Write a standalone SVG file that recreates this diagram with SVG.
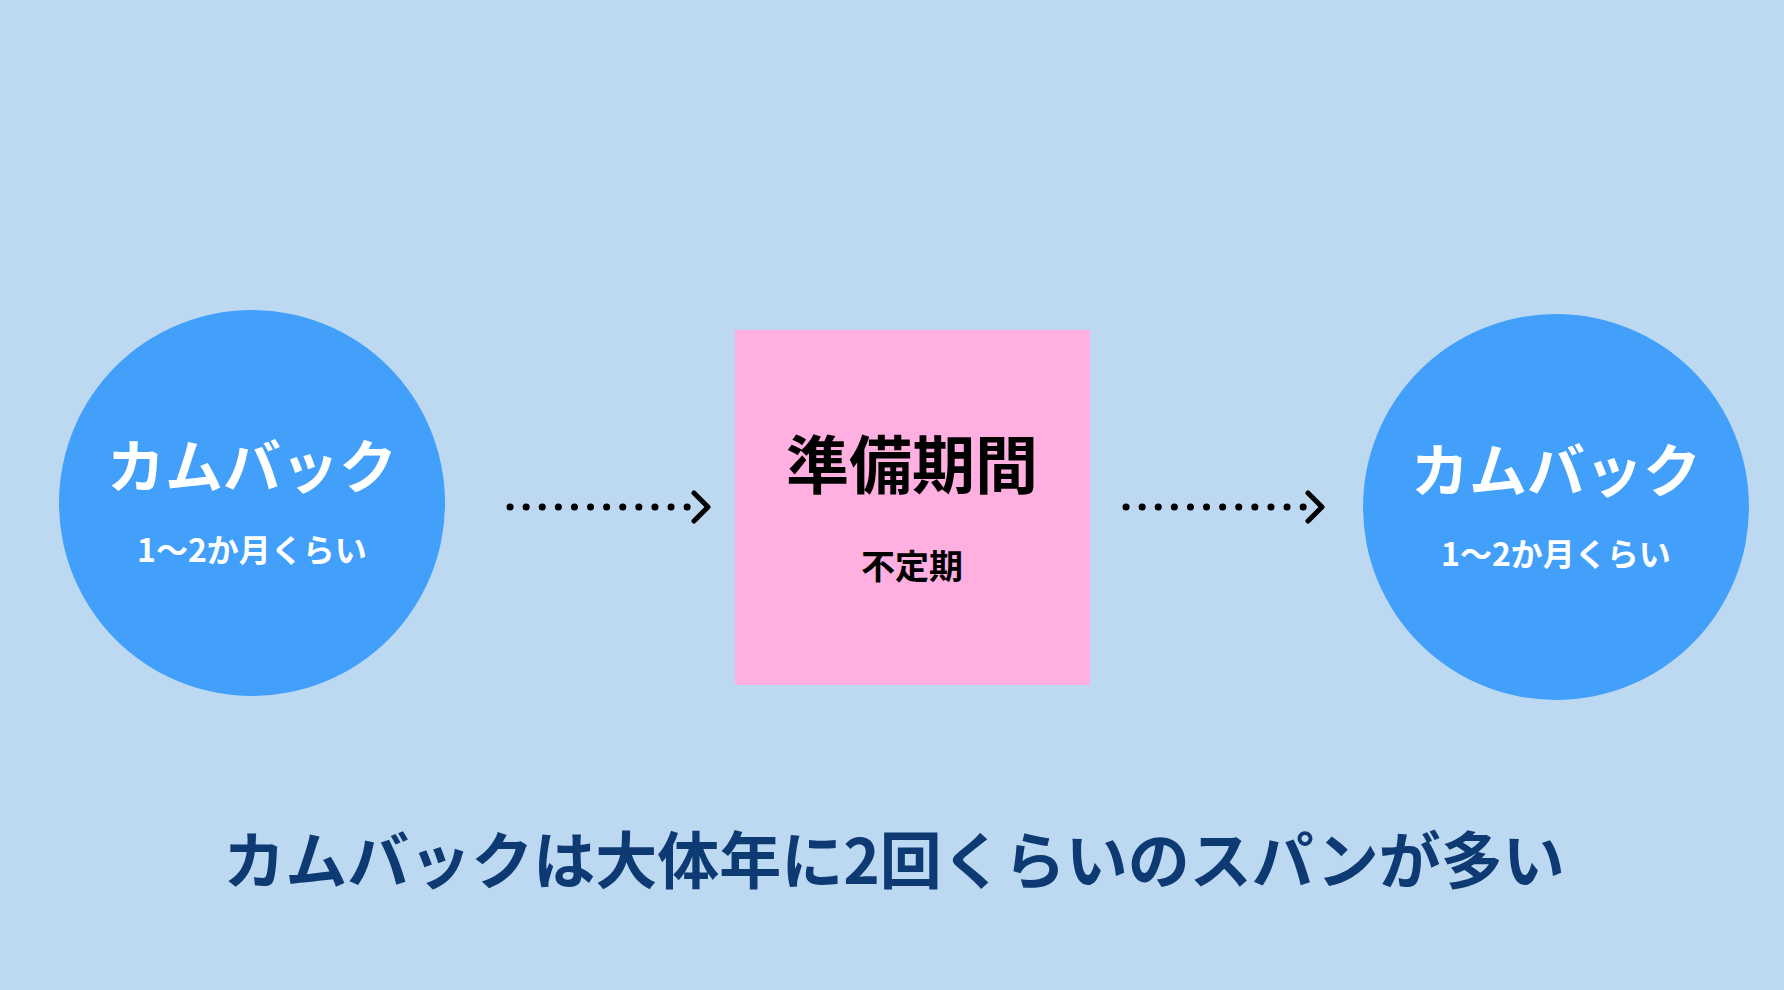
<svg xmlns="http://www.w3.org/2000/svg" width="1784" height="990" viewBox="0 0 1784 990">
<style>
text{font-family:"Noto Sans CJK JP","Noto Sans",sans-serif;font-weight:bold;text-anchor:middle}
.w{fill:#fff}
.k{fill:#000}
.d{stroke:#000;stroke-width:7;stroke-linecap:round;stroke-dasharray:0.1 16;fill:none}
.h{stroke:#000;stroke-width:5;stroke-linecap:round;stroke-linejoin:round;fill:none}
</style>
<rect width="1784" height="990" fill="#BDD9F2"/>
<g id="left">
<circle cx="252" cy="503" r="193" fill="#42A0FB"/>
<text class="w" x="252" y="488" font-size="58">カムバック</text>
<text class="w" x="252" y="562" font-size="32">1〜2か月くらい</text>
</g>
<g id="center">
<rect x="735" y="330" width="355" height="355" fill="#FFB0E0"/>
<text class="k" x="912" y="488" font-size="63">準備期間</text>
<text class="k" x="912" y="579" font-size="34">不定期</text>
</g>
<g id="right">
<circle cx="1556" cy="507" r="193" fill="#42A0FB"/>
<text class="w" x="1556" y="492" font-size="58">カムバック</text>
<text class="w" x="1556" y="566" font-size="32">1〜2か月くらい</text>
</g>
<g id="connectors">
<path class="d" d="M510 507H700"/>
<path class="h" d="M694 493L708 507L694 521"/>
<path class="d" d="M1126 507H1314"/>
<path class="h" d="M1308 493L1322 507L1308 521"/>
</g>
<text x="894" y="884" font-size="62" fill="#0D3A73">カムバックは大体年に2回くらいのスパンが多い</text>
</svg>
